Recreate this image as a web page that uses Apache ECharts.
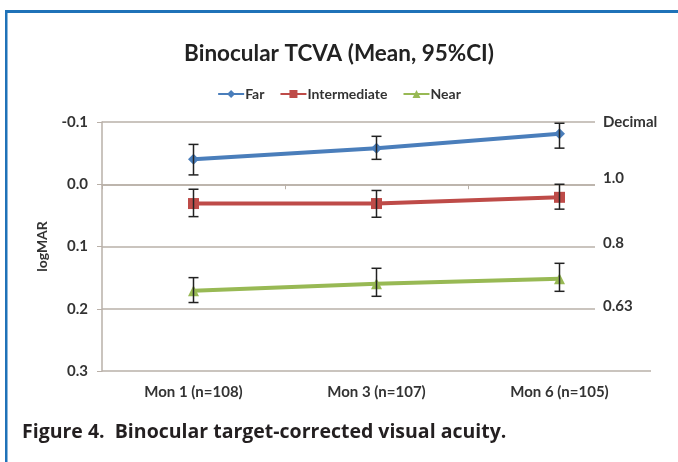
<!DOCTYPE html>
<html>
<head>
<meta charset="utf-8">
<script src="https://cdn.jsdelivr.net/npm/echarts@6/dist/echarts.min.js"></script>
<style>
  html, body { margin: 0; padding: 0; background: #fff; }
  #chart { width: 678px; height: 462px; }
</style>
</head>
<body>
<div id="chart"></div>
<script>
// categories and values (logMAR, lower = better)
const categories = ['Mon 1 (n=108)', 'Mon 3 (n=107)', 'Mon 6 (n=105)'];

const farMean = [-0.040, -0.058, -0.081];
const farLow = [-0.064, -0.077, -0.098];
const farHigh = [-0.015, -0.040, -0.058];

const interMean = [0.031, 0.031, 0.021];
const interLow = [0.008, 0.010, 0.000];
const interHigh = [0.052, 0.053, 0.040];

const nearMean = [0.171, 0.160, 0.152];
const nearLow = [0.150, 0.135, 0.127];
const nearHigh = [0.190, 0.180, 0.172];

// secondary scale: decimal acuity labels placed at logMAR ticks
const decimalLabels = ['Decimal', '1.0', '0.8', '0.63'];
const decimalAt = [-0.1, 0.0, 0.1, 0.2];
const decimalShift = [0, -6, -3, -3];

const FONT = 'Lato, "Open Sans", sans-serif';
const GRID_COLOR = '#b9b0a8';

function errorBars(low, high) {
    return {
        type: 'custom',
        z: 5,
        silent: true,
        data: categories.map((c, i) => [i, low[i], high[i]]),
        renderItem: (params, api) => {
            const top = api.coord([api.value(0), api.value(1)]);
            const bottom = api.coord([api.value(0), api.value(2)]);
            const half = 5;
            const style = { stroke: '#222', lineWidth: 1.5 };
            return {
                type: 'group',
                children: [
                    { type: 'line', shape: { x1: top[0], y1: top[1], x2: bottom[0], y2: bottom[1] }, style: style },
                    { type: 'line', shape: { x1: top[0] - half, y1: top[1], x2: top[0] + half, y2: top[1] }, style: style },
                    { type: 'line', shape: { x1: bottom[0] - half, y1: bottom[1], x2: bottom[0] + half, y2: bottom[1] }, style: style }
                ]
            };
        }
    };
}

function lineSeries(name, data, color, symbol, size) {
    return {
        name: name,
        type: 'line',
        data: data,
        symbol: symbol,
        symbolSize: size,
        lineStyle: { color: color, width: 4 },
        itemStyle: { color: color },
        z: 3
    };
}

const chart = echarts.init(document.getElementById('chart'));

chart.setOption({
    animation: false,
    backgroundColor: '#fff',
    title: {
        text: 'Binocular TCVA (Mean, 95%CI)',
        left: 'center',
        top: 37,
        textStyle: { fontFamily: FONT, fontSize: 22.5, fontWeight: 'bold', color: '#222' }
    },
    legend: {
        top: 82,
        left: 'center',
        itemWidth: 26,
        itemHeight: 10,
        itemGap: 15,
        data: ['Far', 'Intermediate', 'Near'],
        textStyle: { fontFamily: FONT, fontSize: 14, fontWeight: 'bold', color: '#333', padding: [0, 0, 0, -4] }
    },
    grid: { left: 102, right: 27, top: 122, bottom: 91, containLabel: false },
    xAxis: {
        type: 'category',
        data: categories,
        boundaryGap: true,
        axisLine: { lineStyle: { color: GRID_COLOR, width: 1.5 } },
        axisTick: { show: true, length: 5, lineStyle: { color: GRID_COLOR } },
        axisLabel: { margin: 14, fontFamily: FONT, fontSize: 15, fontWeight: 'bold', color: '#333' }
    },
    yAxis: {
        type: 'value',
        inverse: true,
        min: -0.1,
        max: 0.3,
        interval: 0.1,
        name: 'logMAR',
        nameLocation: 'middle',
        nameGap: 53,
        nameRotate: 90,
        nameTextStyle: { fontFamily: FONT, fontSize: 14, fontWeight: 'bold', color: '#333' },
        axisLine: { show: true, lineStyle: { color: GRID_COLOR, width: 1.5 } },
        axisTick: { show: true, length: 5, lineStyle: { color: GRID_COLOR } },
        splitLine: { lineStyle: { color: GRID_COLOR, width: 1.5 } },
        axisLabel: {
            margin: 14,
            fontFamily: FONT, fontSize: 15, fontWeight: 'bold', color: '#333',
            formatter: v => (Math.abs(v) < 1e-9 ? '0.0' : v.toFixed(1))
        }
    },
    series: [
        lineSeries('Far', farMean, '#4a7ebb', 'diamond', 11),
        lineSeries('Intermediate', interMean, '#be4b48', 'rect', 11),
        lineSeries('Near', nearMean, '#98b954', 'triangle', 11),
        errorBars(farLow, farHigh),
        errorBars(interLow, interHigh),
        errorBars(nearLow, nearHigh)
    ]
});

// overlay: decimal labels on white boxes, caption and page border
function placeExtras() {
    const ys = decimalAt.map(v => chart.convertToPixel({ yAxisIndex: 0 }, v));
    const boxX = 595;
    const elements = [
        {
            type: 'rect', z: 20,
            shape: { x: boxX, y: ys[0] - 10, width: 75, height: ys[ys.length - 1] - ys[0] + 20 },
            style: { fill: '#fff' }
        }
    ];
    decimalLabels.forEach((label, i) => {
        elements.push({
            type: 'text', z: 21,
            x: boxX + 8, y: ys[i] + decimalShift[i],
            style: {
                text: label, fontFamily: FONT, fontSize: 15, fontWeight: 'bold',
                fill: '#333', verticalAlign: 'middle', align: 'left'
            }
        });
    });
    elements.push(
        { type: 'rect', z: 30, shape: { x: 5, y: 10, width: 673, height: 3 }, style: { fill: '#1f72b8' } },
        { type: 'rect', z: 30, shape: { x: 5, y: 10, width: 2.5, height: 452 }, style: { fill: '#1f72b8' } },
        {
            type: 'text', z: 30, x: 22, y: 432,
            style: {
                text: 'Figure 4.  Binocular target-corrected visual acuity.',
                fontFamily: '"Open Sans", Lato, sans-serif', fontSize: 19.5, fontWeight: 'bold',
                fill: '#231f20', verticalAlign: 'middle'
            }
        }
    );
    chart.setOption({ graphic: { elements: elements } });
}

placeExtras();
</script>
</body>
</html>
